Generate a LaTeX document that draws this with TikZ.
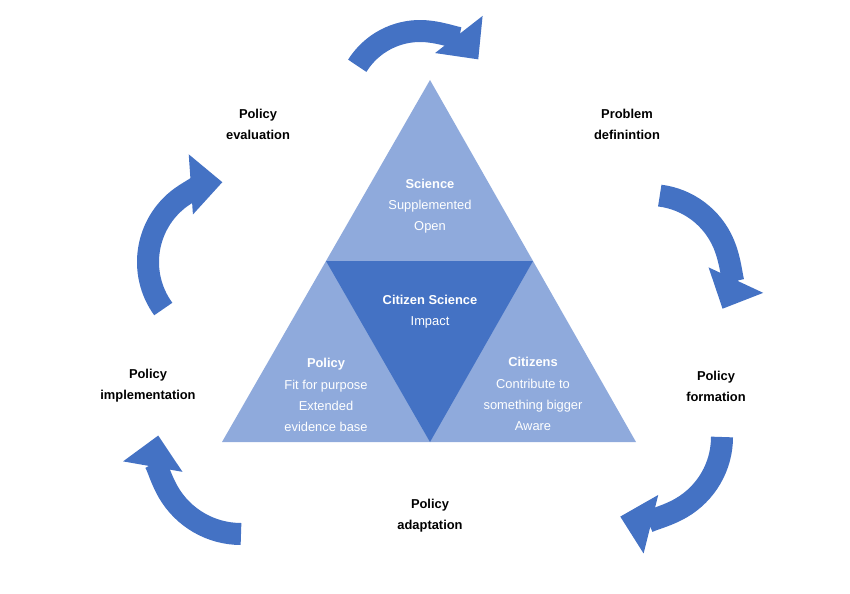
\documentclass[tikz,border=0pt]{standalone}
\usepackage{fontspec}
\setmainfont{Liberation Sans}
\usetikzlibrary{arrows.meta}
\definecolor{lightblue}{HTML}{8FAADC}
\definecolor{darkblue}{HTML}{4472C4}
\tikzset{
  cycle arrow/.style={darkblue,line width=0.66cm,-{Triangle[length=0.95cm,width=1.75cm]}},
  stage/.style={align=center,font=\fontsize{11}{18}\selectfont\bfseries},
  inner/.style={align=center,text=white,font=\fontsize{11}{18}\selectfont},
}
\begin{document}
\begin{tikzpicture}[x=0.03cm,y=-0.03cm]
    \useasboundingbox (0,0) rectangle (850,593);
    % triangle
    \coordinate (top) at (430,80);
    \coordinate (bl) at (222,442);
    \coordinate (br) at (636,442);
    \coordinate (ml) at (326,261);
    \coordinate (mr) at (533,261);
    \coordinate (mb) at (430,442);
    \fill[lightblue] (top) -- (bl) -- (br) -- cycle;
    \fill[darkblue] (ml) -- (mr) -- (mb) -- cycle;
    \node[inner] (science) at (430,206) {\textbf{Science}\\Supplemented\\Open};
    \node[inner] (cs) at (430,312) {\textbf{Citizen Science}\\Impact};
    \node[inner] (policy) at (326,395) {\textbf{Policy}\\Fit for purpose\\Extended\\evidence base};
    \node[inner] (citizens) at (533,394) {\textbf{Citizens}\\Contribute to\\something bigger\\Aware};
    % cycle
    \draw[cycle arrow] (420,105) ++(212:74) arc[start angle=212,end angle=322,radius=74];
    \draw[cycle arrow] (650,275) ++(277:80) arc[start angle=277,end angle=385,radius=80];
    \draw[cycle arrow] (640,437) ++(0:82) arc[start angle=0,end angle=104,radius=82];
    \draw[cycle arrow] (241,450) ++(90:84) arc[start angle=90,end angle=190,radius=84];
    \draw[cycle arrow] (228,262) ++(144:80) arc[start angle=144,end angle=266,radius=80];
    \node[stage] (eval) at (258,124) {Policy\\evaluation};
    \node[stage] (problem) at (627,124) {Problem\\definintion};
    \node[stage] (formation) at (716,386) {Policy\\formation};
    \node[stage] (adaptation) at (430,516) {Policy\\adaptation};
    \node[stage] (impl) at (148,386) {Policy\\implementation};
\end{tikzpicture}
\end{document}
